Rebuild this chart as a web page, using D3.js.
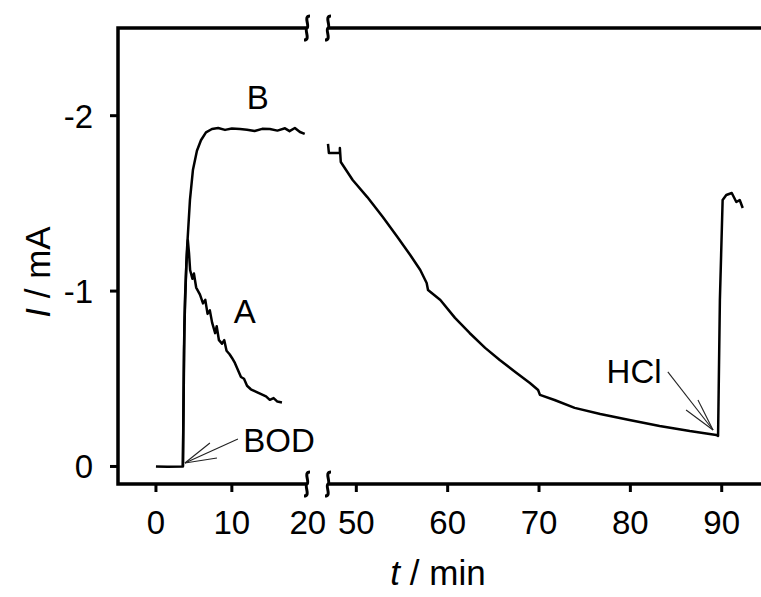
<!DOCTYPE html>
<html>
<head>
<meta charset="utf-8">
<script src="https://cdn.jsdelivr.net/npm/d3@7"></script>
<style>
  body { margin: 0; background: #fff; }
  text { font-family: Arial, "Liberation Sans", sans-serif; fill: #000; }
</style>
</head>
<body>
<svg id="chart" width="761" height="597"></svg>
<script>
// data: t (min), I (mA)
const curveB = [
  [0, 0], [1.5, 0.002], [3.55, 0], [3.69, -0.66], [3.82, -0.95], [4.08, -1.23], [4.48, -1.52],
  [4.87, -1.69], [5.4, -1.80], [5.93, -1.86], [6.59, -1.905], [7.38, -1.924], [8.2, -1.93],
  [9.1, -1.919], [10.0, -1.927], [11.07, -1.924], [12.0, -1.92], [13.0, -1.913], [14.0, -1.925],
  [15.0, -1.924], [16.0, -1.915], [17.0, -1.928], [17.6, -1.912], [18.3, -1.93], [18.97, -1.907], [19.6, -1.896]
];
const curveA = [
  [3.55, 0], [3.75, -0.8], [4.0, -1.15], [4.2, -1.29], [4.35, -1.22], [4.5, -1.12], [4.8, -1.07],
  [5.0, -1.10], [5.3, -1.02], [5.8, -0.98], [6.2, -0.93], [6.5, -0.95], [6.8, -0.87], [7.1, -0.89],
  [7.4, -0.82], [7.8, -0.76], [8.0, -0.80], [8.3, -0.72], [8.7, -0.70], [9.0, -0.72], [9.3, -0.66],
  [9.7, -0.64], [10.0, -0.62], [10.4, -0.59], [10.8, -0.55], [11.2, -0.51], [11.6, -0.50],
  [12.0, -0.46], [12.5, -0.44], [13.0, -0.43], [13.5, -0.42], [14.0, -0.41], [14.5, -0.40],
  [15.0, -0.38], [15.5, -0.39], [16.0, -0.37], [16.6, -0.365]
];
const curveBlate = [
  [46.9, -1.839], [47.0, -1.787], [48.2, -1.787], [48.2, -1.816], [48.3, -1.736], [49.6, -1.633],
  [51.2, -1.536], [52.9, -1.422], [54.5, -1.308], [55.9, -1.206], [57.0, -1.120], [57.7, -1.046],
  [57.85, -1.006], [59.2, -0.949], [60.8, -0.847], [62.4, -0.761], [64.1, -0.676], [65.7, -0.607],
  [67.4, -0.539], [69.0, -0.476], [69.9, -0.436], [70.1, -0.408], [71.7, -0.379], [73.9, -0.334],
  [76.7, -0.299], [79.9, -0.265], [83.2, -0.231], [86.5, -0.202], [89.4, -0.180], [89.6, -0.174],
  [89.8, -0.95], [90.1, -1.519], [90.5, -1.548], [91.1, -1.559], [91.6, -1.508], [91.97, -1.519], [92.3, -1.474]
];
const ticksLeft = [0, 10, 20];
const ticksRight = [50, 60, 70, 80, 90];
const ticksY = [0, -1, -2];

const svg = d3.select("#chart");

const xL = d3.scaleLinear().domain([-5, 19.9]).range([118, 307]);
const xR = d3.scaleLinear().domain([46.9, 94.3]).range([328, 761]);
const y = d3.scaleLinear().domain([0.1, -2.5]).range([484, 28]);

const topY = 28, bottomY = 484, leftX = 118, rightX = 761;
const breakA = 307, breakB = 328;
const fs = 33;

// frame (broken top and bottom)
const frame = svg.append("g").attr("stroke", "#000").attr("stroke-width", 3.5).attr("fill", "none");
frame.append("path").attr("d", `M${breakA},${topY}H${leftX}V${bottomY}H${breakA}`);
frame.append("path").attr("d", `M${breakB},${topY}H${rightX}`);
frame.append("path").attr("d", `M${breakB},${bottomY}H${rightX}`);

// break marks
function squiggle(x, yy) {
  return `M${x + 3},${yy - 12} C${x - 4},${yy - 12} ${x + 3},${yy - 2} ${x},${yy} C${x - 3},${yy + 2} ${x + 4},${yy + 12} ${x - 3},${yy + 12}`;
}
[breakA, breakB].forEach(bx => {
  [topY, bottomY].forEach(by => {
    frame.append("path").attr("d", squiggle(bx, by)).attr("stroke-width", 3);
  });
});

// x ticks
const tickG = svg.append("g");
function xTicks(scale, vals) {
  vals.forEach(v => {
    const px = scale(v);
    tickG.append("line").attr("x1", px).attr("x2", px).attr("y1", bottomY).attr("y2", bottomY + 8)
      .attr("stroke", "#000").attr("stroke-width", 3);
    tickG.append("text").attr("x", px).attr("y", 534).attr("text-anchor", "middle")
      .attr("font-size", fs).text(v);
  });
}
xTicks(xL, ticksLeft.filter(v => v < 20));
tickG.append("text").attr("x", xL(20)).attr("y", 534).attr("text-anchor", "middle").attr("font-size", fs).text(20);
xTicks(xR, ticksRight);

ticksY.forEach(v => {
  const py = y(v);
  tickG.append("line").attr("x1", leftX - 8).attr("x2", leftX).attr("y1", py).attr("y2", py)
    .attr("stroke", "#000").attr("stroke-width", 3);
  tickG.append("text").attr("x", 93).attr("y", py + 12).attr("text-anchor", "end")
    .attr("font-size", fs).text(v === 0 ? "0" : "-" + Math.abs(v));
});

// axis titles
const xt = svg.append("text").attr("x", 438).attr("y", 585).attr("text-anchor", "middle").attr("font-size", 35);
xt.append("tspan").attr("font-style", "italic").text("t");
xt.append("tspan").text(" / min");
const yt = svg.append("text").attr("transform", "translate(50,272) rotate(-90)").attr("text-anchor", "middle").attr("font-size", 35);
yt.append("tspan").attr("font-style", "italic").text("I");
yt.append("tspan").text(" / mA");

// curves
const lineL = d3.line().x(d => xL(d[0])).y(d => y(d[1]));
const lineR = d3.line().x(d => xR(d[0])).y(d => y(d[1]));
const curves = svg.append("g").attr("fill", "none").attr("stroke", "#000").attr("stroke-width", 2.5)
  .attr("stroke-linejoin", "round");
curves.append("path").attr("d", lineL(curveB));
curves.append("path").attr("d", lineL(curveA));
curves.append("path").attr("d", lineR(curveBlate));

// labels
svg.append("text").attr("x", xL(13.4)).attr("y", y(-2.04)).attr("text-anchor", "middle").attr("font-size", fs).text("B");
svg.append("text").attr("x", xL(11.7)).attr("y", y(-0.818)).attr("text-anchor", "middle").attr("font-size", fs).text("A");
svg.append("text").attr("x", xL(11.5)).attr("y", y(-0.083)).attr("font-size", fs).text("BOD");
svg.append("text").attr("x", xR(77.4)).attr("y", y(-0.476)).attr("font-size", fs).text("HCl");

// arrows (tail, tip, two barbs)
const arrows = [
  { sx: xL, tail: [10.8, -0.157], tip: [3.82, -0.02], barbs: [[7.11, -0.134], [8.04, -0.048]] },
  { sx: xR, tail: [84.1, -0.539], tip: [89.05, -0.208], barbs: [[87.4, -0.379], [86.1, -0.322]] }
];
const ag = svg.append("g").attr("stroke", "#222").attr("stroke-width", 1.1);
arrows.forEach(a => {
  const tip = [a.sx(a.tip[0]), y(a.tip[1])];
  ag.append("line").attr("x1", a.sx(a.tail[0])).attr("y1", y(a.tail[1])).attr("x2", tip[0]).attr("y2", tip[1]);
  a.barbs.forEach(b => {
    ag.append("line").attr("x1", a.sx(b[0])).attr("y1", y(b[1])).attr("x2", tip[0]).attr("y2", tip[1]);
  });
});
</script>
</body>
</html>
